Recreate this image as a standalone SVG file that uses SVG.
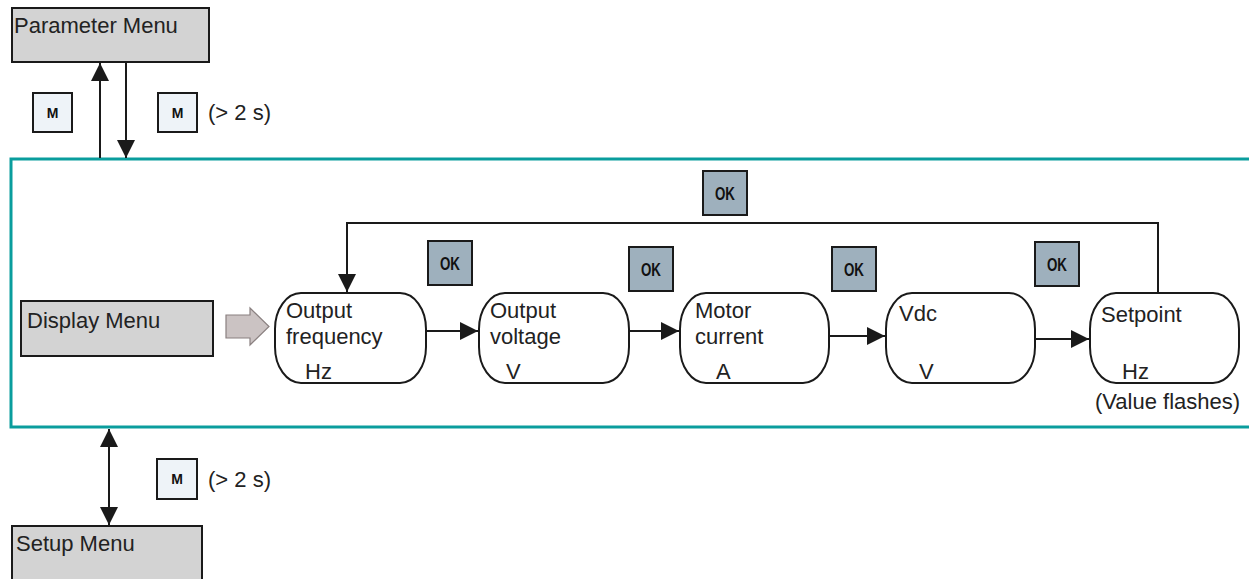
<svg xmlns="http://www.w3.org/2000/svg" width="1249" height="579" viewBox="0 0 1249 579">
<defs>
<style>
.menu{fill:#d3d3d3;stroke:#1a1a1a;stroke-width:2}
.node{fill:#fff;stroke:#1a1a1a;stroke-width:2}
.t{font-family:"Liberation Sans",Arial,sans-serif;font-size:22px;fill:#222}
.mkey{fill:#eef3f8;stroke:#1a1a1a;stroke-width:2}
.mt{font-family:"Liberation Sans",Arial,sans-serif;font-size:14px;font-weight:bold;fill:#111;text-anchor:middle}
.ok{fill:#9eb0bd;stroke:#1a1a1a;stroke-width:2}
.okt{font-family:"Liberation Sans",Arial,sans-serif;font-size:19px;font-weight:bold;fill:#111;text-anchor:middle}
.ln{fill:none;stroke:#1a1a1a;stroke-width:2}
</style>
<marker id="ahb" viewBox="0 0 10 10" refX="10" refY="5" markerWidth="18" markerHeight="18" markerUnits="userSpaceOnUse" orient="auto-start-reverse">
<path d="M0,0 L10,5 L0,10 z" fill="#1a1a1a"/>
</marker>
</defs>
<rect width="1249" height="579" fill="#fff"/>

<rect id="display-area" x="11" y="159" width="1245" height="268" fill="none" stroke="#0a9d9d" stroke-width="3"/>

<g id="parameter-menu">
<rect class="menu" x="12" y="8" width="197" height="54"/>
<text class="t" x="14" y="33">Parameter Menu</text>
</g>
<g id="display-menu">
<rect class="menu" x="21" y="301" width="192" height="55" stroke-width="3"/>
<text class="t" x="27" y="328">Display Menu</text>
</g>
<g id="setup-menu">
<rect class="menu" x="12" y="526" width="190" height="60"/>
<text class="t" x="16" y="551">Setup Menu</text>
</g>

<g id="n1">
<rect class="node" x="275" y="293" width="151" height="90" rx="26" ry="36"/>
<text class="t" x="286" y="318">Output</text>
<text class="t" x="286" y="344">frequency</text>
<text class="t" x="305" y="379">Hz</text>
</g>
<g id="n2">
<rect class="node" x="479" y="293" width="150" height="90" rx="26" ry="36"/>
<text class="t" x="490" y="318">Output</text>
<text class="t" x="490" y="344">voltage</text>
<text class="t" x="506" y="379">V</text>
</g>
<g id="n3">
<rect class="node" x="680" y="293" width="149" height="90" rx="26" ry="36"/>
<text class="t" x="695" y="318">Motor</text>
<text class="t" x="695" y="344">current</text>
<text class="t" x="716" y="379">A</text>
</g>
<g id="n4">
<rect class="node" x="886" y="293" width="149" height="90" rx="26" ry="36"/>
<text class="t" x="899" y="321">Vdc</text>
<text class="t" x="919" y="379">V</text>
</g>
<g id="n5">
<rect class="node" x="1090" y="293" width="149" height="90" rx="26" ry="36"/>
<text class="t" x="1101" y="322">Setpoint</text>
<text class="t" x="1122" y="379">Hz</text>
<text class="t" x="1095" y="409">(Value flashes)</text>
</g>

<g id="keys">
<rect class="mkey" x="33" y="93" width="39" height="39"/><text class="mt" x="52.5" y="118">M</text>
<rect class="mkey" x="158" y="93" width="39" height="39"/><text class="mt" x="177.5" y="118">M</text>
<text class="t" x="208" y="120">(&gt; 2 s)</text>
<rect class="mkey" x="157" y="459" width="40" height="40"/><text class="mt" x="177" y="484">M</text>
<text class="t" x="208" y="487">(&gt; 2 s)</text>
<rect class="ok" x="703" y="171" width="44" height="44"/><text class="okt" x="725" y="200" textLength="20" lengthAdjust="spacingAndGlyphs">OK</text>
<rect class="ok" x="428" y="241" width="44" height="44"/><text class="okt" x="450" y="270" textLength="20" lengthAdjust="spacingAndGlyphs">OK</text>
<rect class="ok" x="629" y="247" width="44" height="44"/><text class="okt" x="651" y="276" textLength="20" lengthAdjust="spacingAndGlyphs">OK</text>
<rect class="ok" x="832" y="247" width="44" height="44"/><text class="okt" x="854" y="276" textLength="20" lengthAdjust="spacingAndGlyphs">OK</text>
<rect class="ok" x="1035" y="242" width="44" height="44"/><text class="okt" x="1057" y="271" textLength="20" lengthAdjust="spacingAndGlyphs">OK</text>
</g>

<g id="connectors">
<line class="ln" x1="100" y1="158" x2="100" y2="63" marker-end="url(#ahb)"/>
<line class="ln" x1="126" y1="63" x2="126" y2="158" marker-end="url(#ahb)"/>
<line class="ln" x1="109" y1="429" x2="109" y2="525" marker-start="url(#ahb)" marker-end="url(#ahb)"/>
<path d="M226,315 L250,315 L250,308 L269,326.5 L250,345 L250,338 L226,338 Z" fill="#cbc3c3" stroke="#8a8080" stroke-width="1.2"/>
<line class="ln" x1="427" y1="331" x2="478" y2="331" marker-end="url(#ahb)"/>
<line class="ln" x1="630" y1="331" x2="679" y2="331" marker-end="url(#ahb)"/>
<line class="ln" x1="830" y1="336" x2="885" y2="336" marker-end="url(#ahb)"/>
<line class="ln" x1="1036" y1="339" x2="1089" y2="339" marker-end="url(#ahb)"/>
<path class="ln" d="M1158,293 L1158,223 L347,223 L347,292" marker-end="url(#ahb)"/>
</g>
</svg>
